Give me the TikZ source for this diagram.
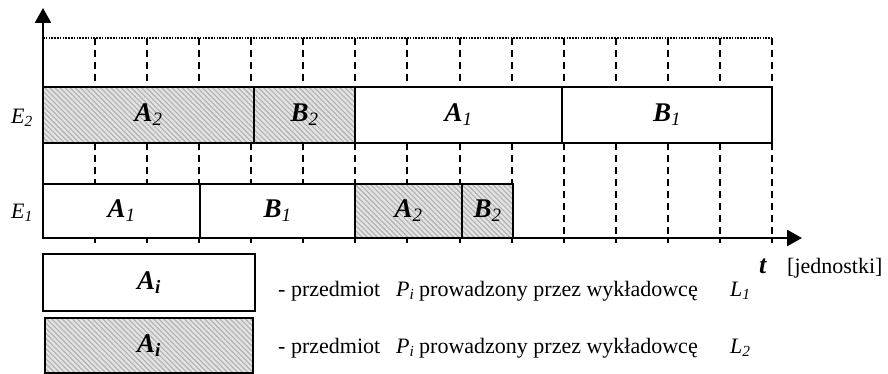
\documentclass[tikz,border=0pt]{standalone}
\usepackage{fontspec}
\setmainfont{Liberation Serif}
\usetikzlibrary{patterns.meta,arrows.meta}

\begin{document}
\begin{tikzpicture}[x=1pt,y=-1pt,
  frame/.style={draw=black, line width=2.4pt, inner sep=0pt, outer sep=0pt, fill=white},
  hatched/.style={frame, preaction={fill=gray!22},
    pattern={Lines[angle=-45, distance=3.6pt, line width=1.1pt]}, pattern color=gray!62},
  axisline/.style={line width=2.6pt, -{Triangle[length=15pt,width=16pt]}},
  gridline/.style={line width=2pt, dash pattern=on 7pt off 5pt},
  topline/.style={line width=2pt, dash pattern=on 1.6pt off 1.2pt},
  blocklabel/.style={font=\fontsize{27}{27}\selectfont\bfseries\itshape},
  rowlabel/.style={font=\fontsize{22}{22}\selectfont\itshape},
  legendtext/.style={font=\fontsize{22}{22}\selectfont, anchor=base west, inner sep=0pt}
]
\useasboundingbox (0,0) rectangle (888,374);

% time grid: 14 units between x=43 and x=772
\def\unit{52.07}
\coordinate (O) at (43,238);
\coordinate (ytip) at (43,8);
\coordinate (xtip) at (802,238);

% dashed unit lines
\foreach \k in {1,...,14} {
  \pgfmathsetmacro\xx{43+\unit*\k}
  \coordinate (gt\k) at (\xx,38);
  \coordinate (gu\k) at (\xx,87);
  \coordinate (gm\k) at (\xx,143);
  \coordinate (gl\k) at (\xx,184);
  \coordinate (ga\k) at (\xx,238);
  \coordinate (gb\k) at (\xx,243);
  \draw[gridline] (gt\k) -- (gu\k);
}
\foreach \k in {1,...,9} {
  \draw[gridline] (gm\k) -- (gl\k);
  \draw[line width=2pt] (ga\k) -- (gb\k);
}
\foreach \k in {10,...,14} {
  \draw[gridline] (gm\k) -- (gb\k);
}

% dotted upper limit
\coordinate (tl) at (43,38);
\draw[topline] (tl) -- (gt14);

% machine E2
\node[hatched, minimum width=211pt, minimum height=56pt] (e2a2) at (148.5,115) {};
\node[hatched, minimum width=101pt, minimum height=56pt] (e2b2) at (304.5,115) {};
\node[frame, minimum width=207pt, minimum height=56pt] (e2a1) at (458.5,115) {};
\node[frame, minimum width=210pt, minimum height=56pt] (e2b1) at (667,115) {};
\node[blocklabel] at (e2a2) {A\textsubscript{\mdseries 2}};
\node[blocklabel] at (e2b2) {B\textsubscript{\mdseries 2}};
\node[blocklabel] at (e2a1) {A\textsubscript{\mdseries 1}};
\node[blocklabel] at (e2b1) {B\textsubscript{\mdseries 1}};

% machine E1
\node[frame, minimum width=157pt, minimum height=54pt] (e1a1) at (121.5,211) {};
\node[frame, minimum width=155pt, minimum height=54pt] (e1b1) at (277.5,211) {};
\node[hatched, minimum width=107pt, minimum height=54pt] (e1a2) at (408.5,211) {};
\node[hatched, minimum width=51pt, minimum height=54pt] (e1b2) at (487.5,211) {};
\node[blocklabel] at (e1a1) {A\textsubscript{\mdseries 1}};
\node[blocklabel] at (e1b1) {B\textsubscript{\mdseries 1}};
\node[blocklabel] at (e1a2) {A\textsubscript{\mdseries 2}};
\node[blocklabel] at (e1b2) {B\textsubscript{\mdseries 2}};

% axes
\draw[axisline] (O) -- (ytip);
\draw[axisline] (O) -- (xtip);

\node[rowlabel] (le2) at (22,118) {E\textsubscript{2}};
\node[rowlabel] (le1) at (22,213) {E\textsubscript{1}};

\node[legendtext, font=\fontsize{26}{26}\selectfont\bfseries\itshape] (tt) at (759,273) {t};
\node[legendtext] (unitlbl) at (787,273) {[jednostki]};

% legend
\node[frame, minimum width=212pt, minimum height=57pt] (leg1) at (149,282.5) {};
\node[blocklabel] at (leg1) {A\textsubscript{i}};
\node[hatched, minimum width=208pt, minimum height=55pt] (leg2) at (149,345.5) {};
\node[blocklabel] at (leg2) {A\textsubscript{i}};

\foreach \row/\yy/\lect in {1/296/1, 2/353/2} {
  \node[legendtext] (dash\row) at (278,\yy) {- przedmiot};
  \node[legendtext] (subj\row) at (396,\yy) {\textit{P}\textsubscript{\textit{i}}};
  \node[legendtext] (desc\row) at (419,\yy) {prowadzony przez wykładowcę};
  \node[legendtext, font=\fontsize{22}{22}\selectfont\itshape] (lect\row) at (730,\yy) {L\textsubscript{\lect}};
}
\end{tikzpicture}
\end{document}
